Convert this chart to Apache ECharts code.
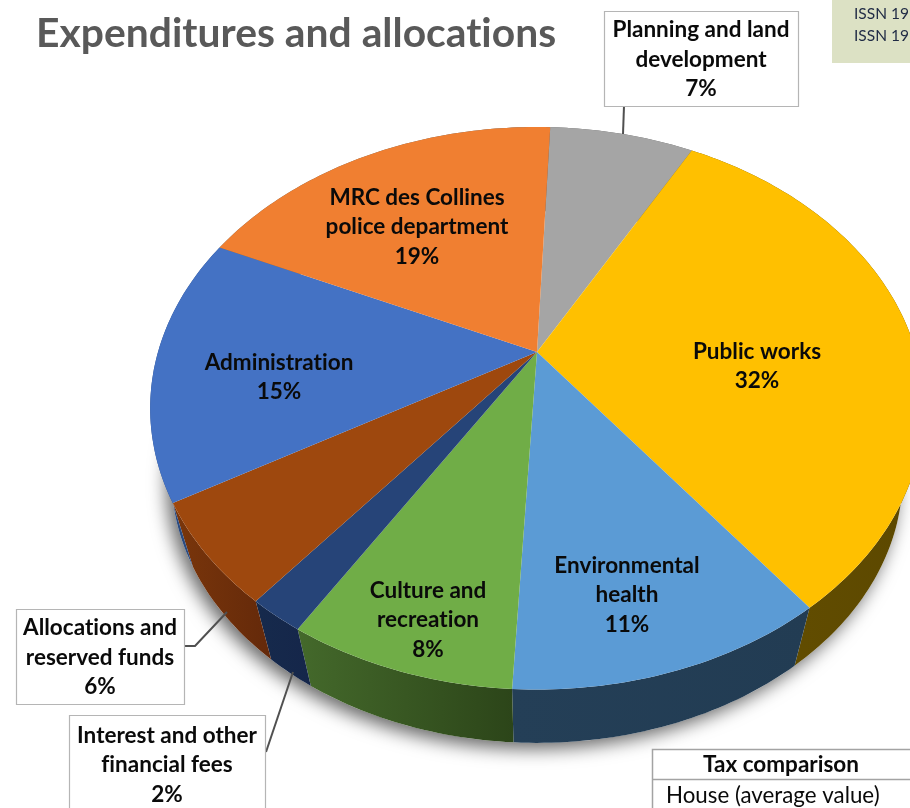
<!DOCTYPE html>
<html><head><meta charset="utf-8">
<style>html,body{margin:0;padding:0;background:#fff;overflow:hidden}#c{width:910px;height:808px}</style>
<script src="https://cdn.jsdelivr.net/npm/echarts@6/dist/echarts.min.js"></script>
</head><body><div id="c"></div>
<script>
// ---- data (shares estimated from the slice edges; they round to the printed percentages) ----
const titleText = 'Expenditures and allocations';
const categories = ['Planning and land\ndevelopment','Public works','Environmental\nhealth','Culture and\nrecreation','Interest and other\nfinancial fees','Allocations and\nreserved funds','Administration','MRC des Collines\npolice department'];
const values = [7.3,31.7,11.17,7.94,2.0,5.83,15.28,18.78];
const tableHeader = 'Tax comparison';
const tableRow = 'House (average value)';
const issnLines = ['ISSN 191','ISSN 191'];

// ---- styling / layout ----
// no optional ligatures: the reference face has none
const _ft = CanvasRenderingContext2D.prototype.fillText;
CanvasRenderingContext2D.prototype.fillText = function(){ this.letterSpacing='0.01px'; return _ft.apply(this,arguments); };
const font = 'Lato, "Open Sans", sans-serif';
const topColors = ['#A5A5A5','#FFC000','#5B9BD5','#70AD47','#264478','#9E480E','#4472C4','#F07F31'];
const sideColors = [['#636363','#636363'],['#665000','#5c4800'],['#243f57','#223c53'],['#44692b','#2c4519'],['#162a4c','#15264a'],['#7a360b','#64290a'],['#2a4a80','#2a4a80'],['#636363','#636363']];
const cx=537, cy=352, ax=379, ay=270, k=0.2, startDeg=2.4;
const depthScale=0.945, vanishY=1660;
const labelPos = [
 {box:[604,11,194,95], line:[[624,106],[623,134]]},
 {at:[757,366]},
 {at:[627,595]},
 {at:[428,620]},
 {box:[69,715,196,110], line:[[266,752],[293,672]], textY:765},
 {box:[16,609,168,95], line:[[185,646],[195,646],[227,612]]},
 {at:[279,377]},
 {at:[417,227]}
];

const total = values.reduce((a,b)=>a+b,0);
function proj(deg){
  const t=deg*Math.PI/180, X=Math.sin(t), Y=-Math.cos(t), d=1-k*Y;
  return [cx+ax*X/d, cy+ay*Y/d];
}
function lower(p){ return [cx+(p[0]-cx)*depthScale, vanishY+(p[1]-vanishY)*depthScale]; }
function sliceAngles(i){
  let s=startDeg; for(let j=0;j<i;j++) s+=values[j]/total*360;
  return [s, s+values[i]/total*360];
}
function arc(a,b){
  const n=Math.max(4,Math.ceil((b-a)/1)), pts=[];
  for(let i=0;i<=n;i++) pts.push(proj(a+(b-a)*i/n));
  return pts;
}
const seriesData = values.map((v,i)=>({name:categories[i],value:v}));

function renderShadow(params,api){
  if(params.dataIndex!==0) return null;
  const pts=arc(0,360).map(lower);
  return {type:'polygon',shape:{points:pts},style:{fill:'#fff',shadowBlur:18,shadowColor:'rgba(0,0,0,0.6)',shadowOffsetX:-5,shadowOffsetY:6}};
}
function renderSide(params,api){
  const i=params.dataIndex, [a,b]=sliceAngles(i);
  const top=arc(a,b), bot=top.map(lower).reverse();
  const c=sideColors[i];
  return {type:'polygon',shape:{points:top.concat(bot)},style:{fill:new echarts.graphic.LinearGradient(0,0,1,0,[{offset:0,color:c[0]},{offset:1,color:c[1]}])}};
}
function renderTop(params,api){
  const i=params.dataIndex, [a,b]=sliceAngles(i);
  return {type:'polygon',shape:{points:[[cx,cy]].concat(arc(a,b))},style:{fill:topColors[i]}};
}
function renderLabel(params,api){
  const i=params.dataIndex, L=labelPos[i];
  const txt=categories[i]+'\n'+Math.round(api.value(0))+'%';
  const children=[];
  let tx,ty;
  if(L.box){
    const b=L.box;
    children.push({type:'polyline',shape:{points:L.line},style:{stroke:'#505050',lineWidth:2,fill:null}});
    children.push({type:'rect',shape:{x:b[0]+.5,y:b[1]+.5,width:b[2],height:b[3]},style:{fill:'#fff',stroke:'#b5b5b5',lineWidth:1.2}});
    tx=b[0]+b[2]/2; ty=L.textY!==undefined?L.textY:b[1]+b[3]/2+1;
  } else {tx=L.at[0];ty=L.at[1];}
  children.push({type:'text',style:{x:tx,y:ty,text:txt,fill:'#0a0a0a',font:'bold 22.5px '+font,align:'center',verticalAlign:'middle',lineHeight:29.5}});
  return {type:'group',children};
}
function custom(fn,z){return {type:'custom',coordinateSystem:'none',renderItem:fn,data:seriesData.map(d=>({name:d.name,value:[d.value]})),z,animation:false,silent:true,encode:{value:0}};}

const chart=echarts.init(document.getElementById('c'),null,{renderer:'canvas'});
chart.setOption({
  backgroundColor:'#fff',animation:false,
  title:{text:titleText,left:36,top:13,padding:0,textStyle:{color:'#595959',fontFamily:font,fontWeight:'bold',fontSize:40.8}},
  series:[custom(renderShadow,1),custom(renderSide,2),custom(renderTop,3),custom(renderLabel,4)],
  graphic:[
    {type:'rect',shape:{x:832,y:-1,width:90,height:64},style:{fill:'#DCE1C4'},z:5},
    {type:'text',style:{x:854,y:14,text:issnLines[0],fill:'#1f2a44',font:'15.5px '+font,verticalAlign:'middle'},z:6},
    {type:'text',style:{x:854,y:36,text:issnLines[1],fill:'#1f2a44',font:'15.5px '+font,verticalAlign:'middle'},z:6},
    {type:'rect',shape:{x:652.5,y:749.5,width:280,height:80},style:{fill:'#fff',stroke:'#a3a3a3',lineWidth:1.5},z:5},
    {type:'line',shape:{x1:652,y1:779.5,x2:910,y2:779.5},style:{stroke:'#a3a3a3',lineWidth:1.5},z:6},
    {type:'text',style:{x:781,y:765,text:tableHeader,fill:'#0a0a0a',font:'bold 22.5px '+font,align:'center',verticalAlign:'middle'},z:6},
    {type:'text',style:{x:666,y:796,text:tableRow,fill:'#0a0a0a',font:'22.3px '+font,verticalAlign:'middle'},z:6}
  ]
});
</script></body></html>
